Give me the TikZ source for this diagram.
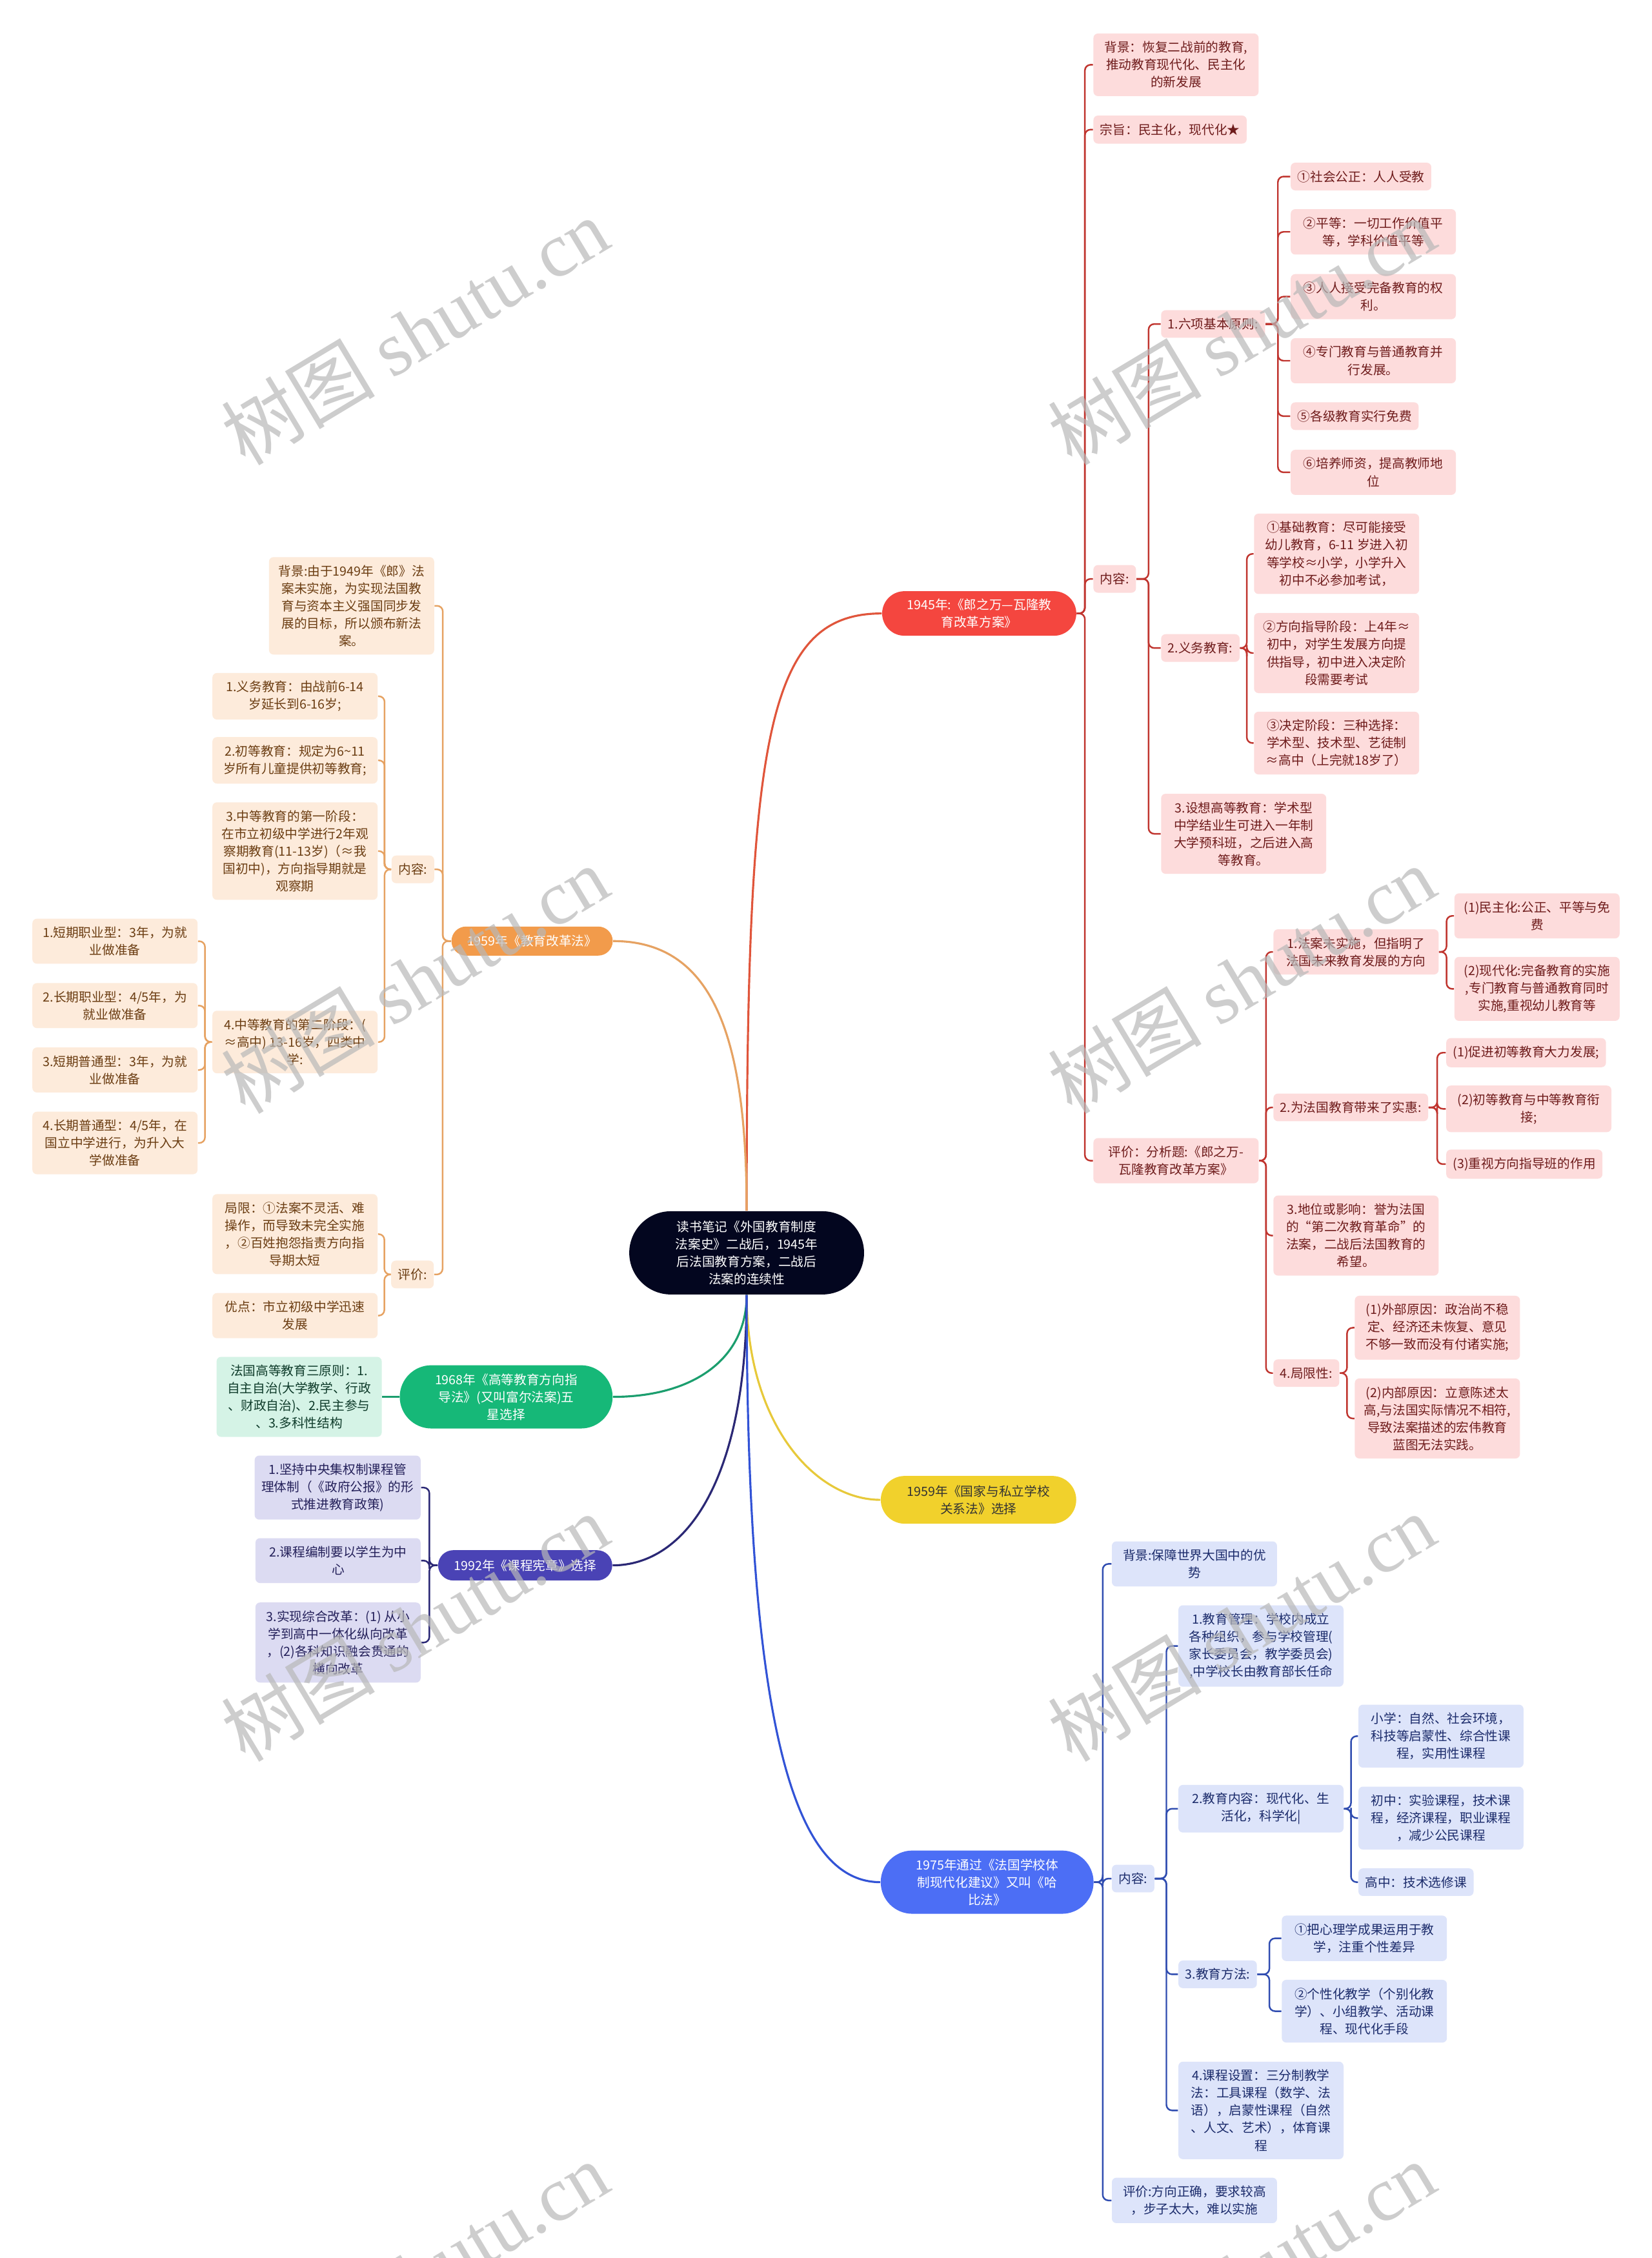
\documentclass[tikz,border=0pt]{standalone}
\usepackage{fontspec}
\setmainfont{Noto Sans CJK SC}
\newfontfamily\wmserif{Liberation Serif}
\usetikzlibrary{shapes.misc,calc}

\definecolor{rootfill}{HTML}{03061F}
\definecolor{redpill}{HTML}{F4463F}
\definecolor{redtrunk}{HTML}{E0553B}
\definecolor{redlink}{HTML}{C0352F}
\definecolor{redfill}{HTML}{FDDCDC}
\definecolor{redtext}{HTML}{6E1B1B}
\definecolor{orangepill}{HTML}{F29B4B}
\definecolor{orangelink}{HTML}{E6A262}
\definecolor{orangefill}{HTML}{FDEBDB}
\definecolor{orangetext}{HTML}{6B3D12}
\definecolor{greenpill}{HTML}{16B878}
\definecolor{greenlink}{HTML}{1B9E6E}
\definecolor{greenfill}{HTML}{D5F3E6}
\definecolor{greentext}{HTML}{0E3B2A}
\definecolor{yellowpill}{HTML}{F1D12C}
\definecolor{yellowlink}{HTML}{E7C93A}
\definecolor{indigopill}{HTML}{4A43B5}
\definecolor{indigolink}{HTML}{2B2875}
\definecolor{indigofill}{HTML}{DCDBF2}
\definecolor{indigotext}{HTML}{24205A}
\definecolor{bluepill}{HTML}{4C6EF5}
\definecolor{bluetrunk}{HTML}{3253D6}
\definecolor{bluelink}{HTML}{2F4CB0}
\definecolor{bluefill}{HTML}{DDE4FA}
\definecolor{bluetext}{HTML}{1B2B6B}

\begin{document}
\begin{tikzpicture}[x=0.02232cm, y=-0.02232cm,
  every node/.style={font=\fontsize{5.6}{7.7}\selectfont, align=center},
  box/.style={rectangle, rounded corners=2pt, inner xsep=3pt, inner ysep=3.5pt},
  wide/.style={minimum width=2.56cm},
  pill/.style={rounded rectangle, inner xsep=1pt, inner ysep=1pt, text=white},
  elbow/.style={to path={-| ($(\tikztostart)!0.5!(\tikztotarget)$) |- (\tikztotarget)}},
  link/.style={line width=0.7pt, rounded corners=2.5pt},
  trunk/.style={line width=0.9pt},
  redbox/.style={box, fill=redfill, text=redtext},
  orangebox/.style={box, fill=orangefill, text=orangetext},
  greenbox/.style={box, fill=greenfill, text=greentext},
  indigobox/.style={box, fill=indigofill, text=indigotext},
  bluebox/.style={box, fill=bluefill, text=bluetext},
  stamp/.style={font=\fontsize{34}{40}\selectfont, text=black!28, opacity=0.7, rotate=31}]

  \useasboundingbox[fill=white] (0,0) rectangle (1147,1568);

  % centre
  \node[rounded rectangle, fill=rootfill, text=white, inner xsep=0pt,
        minimum width=3.64cm, minimum height=1.29cm] (root) at (518.5,870)
       {读书笔记《外国教育制度\\法案史》二战后，1945年\\后法国教育方案，二战后\\法案的连续性};

  % 1945
  \node[pill, fill=redpill, minimum width=3.08cm, minimum height=0.69cm] (r0) at (680,426)
       {1945年:《郎之万—瓦隆教\\育改革方案》};
  \node[redbox, wide, anchor=west] (r1) at (759,45) {背景：恢复二战前的教育,\\推动教育现代化、民主化\\的新发展};
  \node[redbox, anchor=west] (r2) at (759,90) {宗旨：民主化，现代化★};
  \node[redbox, anchor=west] (r3) at (759,402) {内容:};
  \node[redbox, wide, anchor=west] (r4) at (759,806) {评价：分析题:《郎之万-\\瓦隆教育改革方案》};

  \node[redbox, anchor=west] (r31) at (806,225) {1.六项基本原则:};
  \node[redbox, anchor=west] (r32) at (806,450) {2.义务教育:};
  \node[redbox, wide, anchor=west] (r33) at (806,579) {3.设想高等教育：学术型\\中学结业生可进入一年制\\大学预科班，之后进入高\\等教育。};

  \node[redbox, anchor=west] (r311) at (896,122.6) {①社会公正：人人受教};
  \node[redbox, wide, anchor=west] (r312) at (896,161) {②平等：一切工作价值平\\等，学科价值平等};
  \node[redbox, wide, anchor=west] (r313) at (896,206) {③人人接受完备教育的权\\利。};
  \node[redbox, wide, anchor=west] (r314) at (896,250.5) {④专门教育与普通教育并\\行发展。};
  \node[redbox, anchor=west] (r315) at (896,289) {⑤各级教育实行免费};
  \node[redbox, wide, anchor=west] (r316) at (896,328) {⑥培养师资，提高教师地\\位};

  \node[redbox, wide, anchor=west] (r321) at (870.5,384.6) {①基础教育：尽可能接受\\幼儿教育，6-11 岁进入初\\等学校≈小学，小学升入\\初中不必参加考试，};
  \node[redbox, wide, anchor=west] (r322) at (870.5,453.5) {②方向指导阶段：上4年≈\\初中，对学生发展方向提\\供指导，初中进入决定阶\\段需要考试};
  \node[redbox, wide, anchor=west] (r323) at (870.5,516) {③决定阶段：三种选择：\\学术型、技术型、艺徒制\\≈高中（上完就18岁了）};

  \node[redbox, wide, anchor=west] (r41) at (884,661) {1.法案未实施，但指明了\\法国未来教育发展的方向};
  \node[redbox, anchor=west] (r42) at (884,769) {2.为法国教育带来了实惠:};
  \node[redbox, wide, anchor=west] (r43) at (884,858) {3.地位或影响：誉为法国\\的“第二次教育革命”的\\法案，二战后法国教育的\\希望。};
  \node[redbox, anchor=west] (r44) at (884,953.5) {4.局限性:};

  \node[redbox, wide, anchor=west] (r411) at (1009.7,636) {(1)民主化:公正、平等与免\\费};
  \node[redbox, wide, anchor=west] (r412) at (1009.7,686.7) {(2)现代化:完备教育的实施\\,专门教育与普通教育同时\\实施,重视幼儿教育等};
  \node[redbox, anchor=west] (r421) at (1004,731) {(1)促进初等教育大力发展;};
  \node[redbox, wide, anchor=west] (r422) at (1004,770) {(2)初等教育与中等教育衔\\接;};
  \node[redbox, anchor=west] (r423) at (1004,808.4) {(3)重视方向指导班的作用};
  \node[redbox, wide, anchor=west] (r441) at (940.5,922) {(1)外部原因：政治尚不稳\\定、经济还未恢复、意见\\不够一致而没有付诸实施;};
  \node[redbox, wide, anchor=west] (r442) at (940.5,985) {(2)内部原因：立意陈述太\\高,与法国实际情况不相符,\\导致法案描述的宏伟教育\\蓝图无法实践。};

  % 1959 left
  \node[pill, fill=orangepill, minimum width=2.57cm, minimum height=0.45cm] (o0) at (369.5,653.5) {1959年《教育改革法》};
  \node[orangebox, wide, anchor=east] (o1) at (301.8,420.7) {背景:由于1949年《郎》法\\案未实施，为实现法国教\\育与资本主义强国同步发\\展的目标，所以颁布新法\\案。};
  \node[orangebox, anchor=east] (o2) at (301.8,603.7) {内容:};
  \node[orangebox, anchor=east] (o3) at (301.5,885) {评价:};

  \node[orangebox, wide, anchor=east] (o21) at (262.5,483.5) {1.义务教育：由战前6-14\\岁延长到6-16岁;};
  \node[orangebox, wide, anchor=east] (o22) at (262.5,528) {2.初等教育：规定为6\textasciitilde11\\岁所有儿童提供初等教育;};
  \node[orangebox, wide, anchor=east] (o23) at (262.5,591) {3.中等教育的第一阶段：\\在市立初级中学进行2年观\\察期教育(11-13岁)（≈我\\国初中)，方向指导期就是\\观察期};
  \node[orangebox, wide, anchor=east] (o24) at (262.5,723.6) {4.中等教育的第二阶段：(\\≈高中) 13-16岁，四类中\\学:};

  \node[orangebox, wide, anchor=east] (o241) at (137.5,653.6) {1.短期职业型：3年，为就\\业做准备};
  \node[orangebox, wide, anchor=east] (o242) at (137.5,698.3) {2.长期职业型：4/5年，为\\就业做准备};
  \node[orangebox, wide, anchor=east] (o243) at (137.5,743) {3.短期普通型：3年，为就\\业做准备};
  \node[orangebox, wide, anchor=east] (o244) at (137.5,793.7) {4.长期普通型：4/5年，在\\国立中学进行，为升入大\\学做准备};

  \node[orangebox, wide, anchor=east] (o31) at (262.5,857) {局限：①法案不灵活、难\\操作，而导致未完全实施\\，②百姓抱怨指责方向指\\导期太短};
  \node[orangebox, wide, anchor=east] (o32) at (262.5,913.6) {优点：市立初级中学迅速\\发展};

  % 1968
  \node[pill, fill=greenpill, minimum width=3.37cm, minimum height=0.98cm] (g0) at (351.5,970) {1968年《高等教育方向指\\导法》(又叫富尔法案)五\\星选择};
  \node[greenbox, wide, anchor=east] (g1) at (265.4,970) {法国高等教育三原则：1.\\自主自治(大学教学、行政\\、财政自治)、2.民主参与\\、3.多科性结构};

  % 1959 right
  \node[pill, fill=yellowpill, text=black!80, minimum width=3.10cm, minimum height=0.74cm] (y0) at (679.5,1041.5) {1959年《国家与私立学校\\关系法》选择};

  % 1992
  \node[pill, fill=indigopill, minimum width=2.77cm, minimum height=0.47cm] (i0) at (364.7,1087) {1992年《课程宪章》选择};
  \node[indigobox, wide, anchor=east] (i1) at (292.4,1033) {1.坚持中央集权制课程管\\理体制（《政府公报》的形\\式推进教育政策)};
  \node[indigobox, wide, anchor=east] (i2) at (292.4,1083.7) {2.课程编制要以学生为中\\心};
  \node[indigobox, wide, anchor=east] (i3) at (292.4,1140.6) {3.实现综合改革：(1) 从小\\学到高中一体化纵向改革\\，(2)各科知识融会贯通的\\横向改革};

  % 1975
  \node[pill, fill=bluepill, minimum width=3.37cm, minimum height=0.98cm] (b0) at (685.5,1307) {1975年通过《法国学校体\\制现代化建议》又叫《哈\\比法》};
  \node[bluebox, wide, anchor=west] (b1) at (771.8,1086) {背景:保障世界大国中的优\\势};
  \node[bluebox, anchor=west] (b2) at (771.8,1304.5) {内容:};
  \node[bluebox, wide, anchor=west] (b3) at (771.8,1528) {评价:方向正确，要求较高\\，步子太大，难以实施};

  \node[bluebox, wide, anchor=west] (b21) at (818,1143) {1.教育管理：学校内成立\\各种组织，参与学校管理(\\家长委员会，教学委员会)\\,中学校长由教育部长任命};
  \node[bluebox, wide, anchor=west] (b22) at (818,1256) {2.教育内容：现代化、生\\活化，科学化|};
  \node[bluebox, anchor=west] (b23) at (818,1371) {3.教育方法:};
  \node[bluebox, wide, anchor=west] (b24) at (818,1465.5) {4.课程设置：三分制教学\\法：工具课程（数学、法\\语），启蒙性课程（自然\\、人文、艺术），体育课\\程};

  \node[bluebox, wide, anchor=west] (b221) at (943,1205.6) {小学：自然、社会环境，\\科技等启蒙性、综合性课\\程，实用性课程};
  \node[bluebox, wide, anchor=west] (b222) at (943,1262.5) {初中：实验课程，技术课\\程，经济课程，职业课程\\，减少公民课程};
  \node[bluebox, anchor=west] (b223) at (943,1307) {高中：技术选修课};
  \node[bluebox, wide, anchor=west] (b231) at (889.8,1346) {①把心理学成果运用于教\\学，注重个性差异};
  \node[bluebox, wide, anchor=west] (b232) at (889.8,1396.6) {②个性化教学（个别化教\\学）、小组教学、活动课\\程、现代化手段};

  % trunks
  \draw[trunk, redtrunk] (root.north) .. controls +(0,-330) and +(-80,0) .. (r0.west);
  \draw[trunk, orangelink] (root.north) .. controls +(0,-120) and +(70,0) .. (o0.east);
  \draw[trunk, greenlink] (root.south) .. controls +(0,45) and +(55,0) .. (g0.east);
  \draw[trunk, yellowlink] (root.south) .. controls +(0,90) and +(-45,0) .. (y0.west);
  \draw[trunk, indigolink] (root.south) .. controls +(0,130) and +(50,0) .. (i0.east);
  \draw[trunk, bluetrunk] (root.south) .. controls +(0,300) and +(-60,0) .. (b0.west);

  % branches
  \foreach \c in {r1,r2,r3,r4} \draw[link, redlink] (r0.east) to[elbow] (\c.west);
  \foreach \c in {r31,r32,r33} \draw[link, redlink] (r3.east) to[elbow] (\c.west);
  \foreach \c in {r311,r312,r313,r314,r315,r316} \draw[link, redlink] (r31.east) to[elbow] (\c.west);
  \foreach \c in {r321,r322,r323} \draw[link, redlink] (r32.east) to[elbow] (\c.west);
  \foreach \c in {r41,r42,r43,r44} \draw[link, redlink] (r4.east) to[elbow] (\c.west);
  \foreach \c in {r411,r412} \draw[link, redlink] (r41.east) to[elbow] (\c.west);
  \foreach \c in {r421,r422,r423} \draw[link, redlink] (r42.east) to[elbow] (\c.west);
  \foreach \c in {r441,r442} \draw[link, redlink] (r44.east) to[elbow] (\c.west);

  \foreach \c in {o1,o2,o3} \draw[link, orangelink] (o0.west) to[elbow] (\c.east);
  \foreach \c in {o21,o22,o23,o24} \draw[link, orangelink] (o2.west) to[elbow] (\c.east);
  \foreach \c in {o241,o242,o243,o244} \draw[link, orangelink] (o24.west) to[elbow] (\c.east);
  \foreach \c in {o31,o32} \draw[link, orangelink] (o3.west) to[elbow] (\c.east);

  \draw[link, greenlink] (g0.west) -- (g1.east);
  \foreach \c in {i1,i2,i3} \draw[link, indigolink] (i0.west) to[elbow] (\c.east);

  \foreach \c in {b1,b2,b3} \draw[link, bluelink] (b0.east) to[elbow] (\c.west);
  \foreach \c in {b21,b22,b23,b24} \draw[link, bluelink] (b2.east) to[elbow] (\c.west);
  \foreach \c in {b221,b222,b223} \draw[link, bluelink] (b22.east) to[elbow] (\c.west);
  \foreach \c in {b231,b232} \draw[link, bluelink] (b23.east) to[elbow] (\c.west);

  % watermark
  \foreach \wx in {288,862}
    \foreach \wy in {230,680,1130,1580}
      \node[stamp] (stamp-\wx-\wy) at (\wx,\wy) {树图 {\wmserif shutu.cn}};
\end{tikzpicture}
\end{document}
